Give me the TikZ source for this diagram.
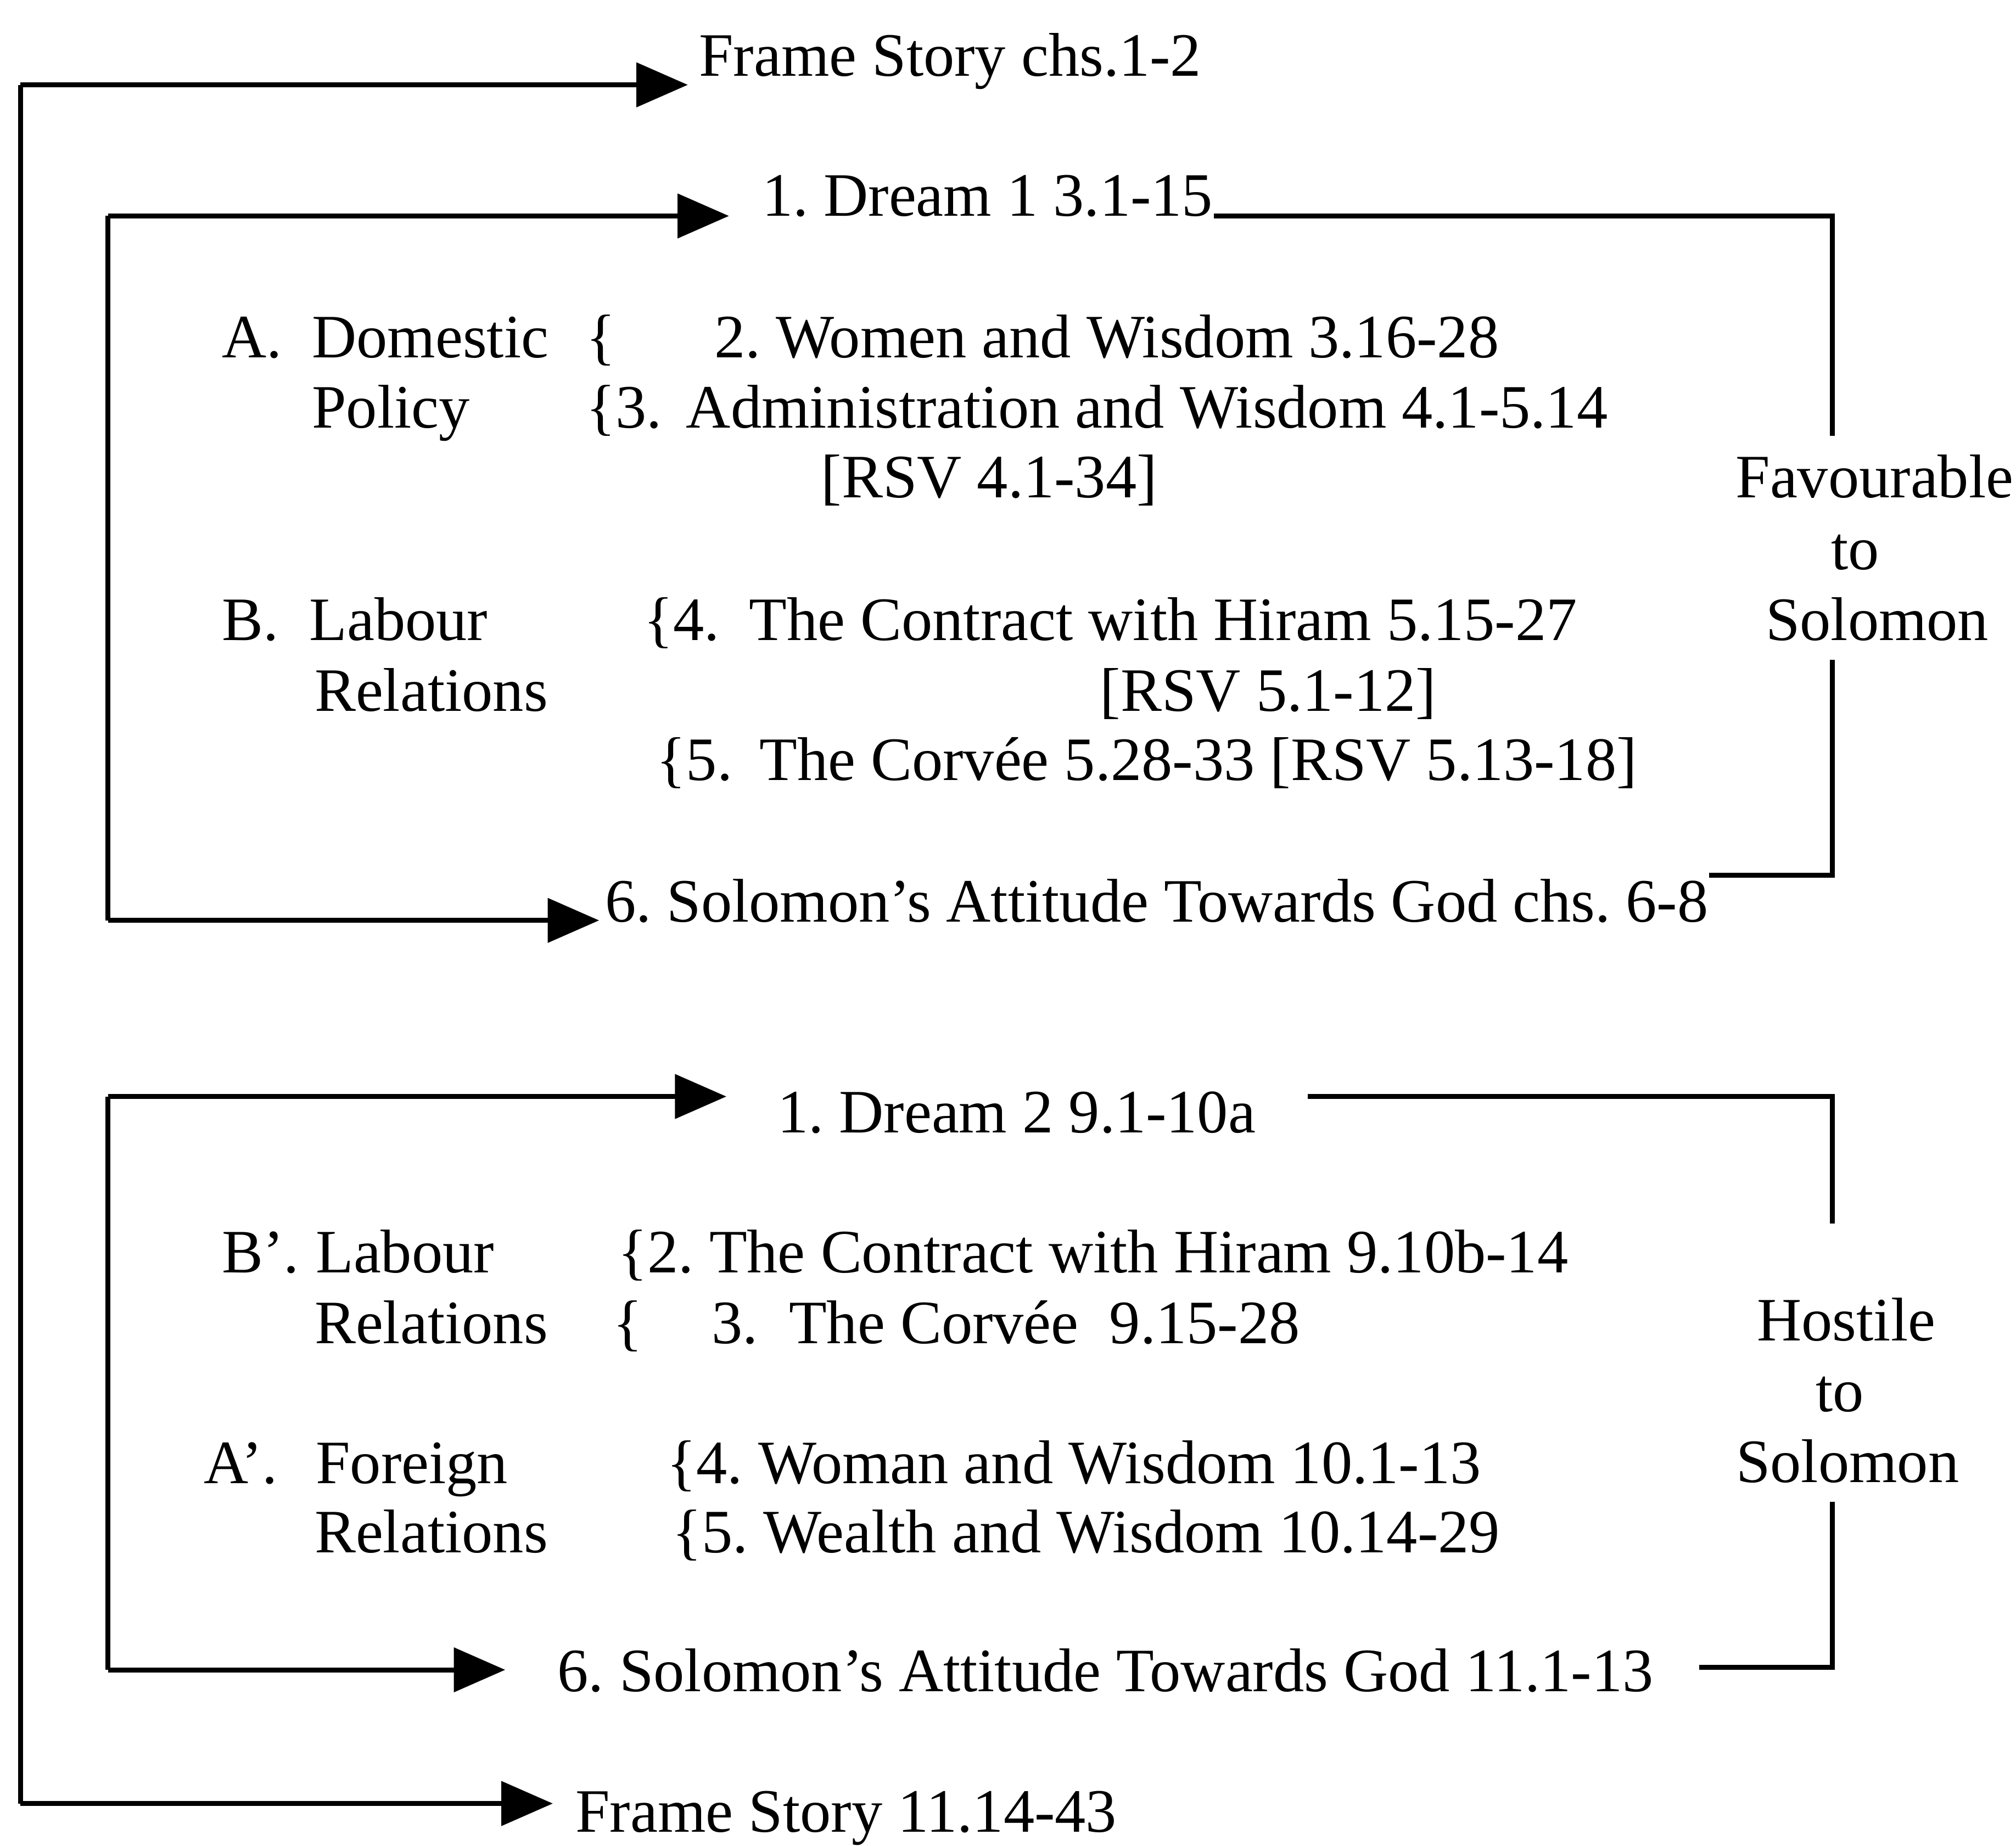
\documentclass[tikz,border=0pt]{standalone}
\usepackage{fontspec}
\setmainfont{Liberation Serif}
\usetikzlibrary{arrows.meta}
\tikzstyle{item}=[anchor=base west,inner sep=0pt,font=\fontsize{13.65}{16}\selectfont\frenchspacing]
\tikzstyle{verdict}=[item,anchor=base,inner sep=4pt]
\tikzstyle{link}=[draw=black,line width=1.1pt]
\tikzstyle{flow}=[link,-{Triangle[length=0.4cm,width=0.34cm]}]

\begin{document}
\begin{tikzpicture}[x=0.01cm,y=-0.01cm]
  \useasboundingbox (0,0) rectangle (1568,1436);

  % first half: chs. 1-8
  \node[item] (frameA) at (543,59) {Frame Story chs.1-2};
  \node[item] (dreamA) at (592,168) {1. Dream 1 3.1-15};
  \node[item] (secA) at (172,278) {A.};
  \node[item] (domestic) at (242,278) {Domestic};
  \node[item] (braceA) at (455,278) {\{};
  \node[item] (womenA) at (555,278) {2. Women and Wisdom 3.16-28};
  \node[item] (policy) at (242,333) {Policy};
  \node[item] (braceB) at (455,333) {\{3.};
  \node[item] (admin) at (533,333) {Administration and Wisdom 4.1-5.14};
  \node[item] (rsvA) at (638,387) {[RSV 4.1-34]};
  \node[item] (secB) at (172,498) {B.};
  \node[item] (labourA) at (240,498) {Labour};
  \node[item] (braceC) at (500,498) {\{4.};
  \node[item] (hiramA) at (582,498) {The Contract with Hiram 5.15-27};
  \node[item] (relA) at (244,553) {Relations};
  \node[item] (rsvB) at (855,553) {[RSV 5.1-12]};
  \node[item] (braceD) at (510,607) {\{5.};
  \node[item] (corveeA) at (590,607) {The Corvée 5.28-33 [RSV 5.13-18]};
  \node[item] (attA) at (470,717) {6. Solomon’s Attitude Towards God chs. 6-8};
  \node[verdict] (favA) at (1458,387) {Favourable};
  \node[verdict] (favB) at (1443,443) {to};
  \node[verdict] (favC) at (1460,498) {Solomon};

  % second half: chs. 9-11
  \node[item] (dreamB) at (604,881) {1. Dream 2 9.1-10a};
  \node[item] (secBp) at (172,990) {B’.};
  \node[item] (labourB) at (245,990) {Labour};
  \node[item] (hiramB) at (480,990) {\{2. The Contract with Hiram 9.10b-14};
  \node[item] (relB) at (244,1045) {Relations};
  \node[item] (braceE) at (476,1045) {\{};
  \node[item] (numC) at (553,1045) {3.};
  \node[item] (corveeB) at (613,1045) {The Corvée\ \ 9.15-28};
  \node[item] (secAp) at (158,1154) {A’.};
  \node[item] (foreign) at (245,1154) {Foreign};
  \node[item] (womanB) at (518,1154) {\{4. Woman and Wisdom 10.1-13};
  \node[item] (relC) at (244,1208) {Relations};
  \node[item] (wealth) at (522,1208) {\{5. Wealth and Wisdom 10.14-29};
  \node[item] (attB) at (433,1316) {6. Solomon’s Attitude Towards God 11.1-13};
  \node[item] (frameB) at (447,1425) {Frame Story 11.14-43};
  \node[verdict] (hosA) at (1436,1043) {Hostile};
  \node[verdict] (hosB) at (1431,1098) {to};
  \node[verdict] (hosC) at (1437,1153) {Solomon};

  \coordinate (outTop) at (16,66);
  \coordinate (outBot) at (16,1403);
  \coordinate (upTop) at (84,168);
  \coordinate (upBot) at (84,716);
  \coordinate (loTop) at (84,853);
  \coordinate (loBot) at (84,1299);
  \coordinate (upRight) at (1425,168);
  \coordinate (upCorner) at (1425,681);
  \coordinate (loRight) at (1425,853);
  \coordinate (loCorner) at (1425,1297);

  % left brackets with arrows
  \draw[link] (outTop) -- (outBot);
  \draw[link] (upTop) -- (upBot);
  \draw[link] (loTop) -- (loBot);
  \foreach \corner / \dest / \gap in {outTop/frameA/0.08, outBot/frameB/0.17,
                                      upTop/dreamA/0.25, upBot/attA/0.04,
                                      loTop/dreamB/0.39, loBot/attB/0.4}
      \draw[flow,shorten >=\gap cm] (\corner) -- (\corner -| \dest.west);

  % right brackets
  \draw[link] (dreamA.base east) -- (upRight) -- (upRight |- favA.north);
  \draw[link] (upRight |- favC.south) -- (upCorner) -- (upCorner -| attA.north east);
  \draw[link,shorten <=0.4cm,shorten >=0.43cm] (loRight -| dreamB.east) -- (loRight) -- (loRight |- hosA.north);
  \draw[link,shorten >=0.35cm] (loRight |- hosC.south) -- (loCorner) -- (loCorner -| attB.east);
\end{tikzpicture}
\end{document}
